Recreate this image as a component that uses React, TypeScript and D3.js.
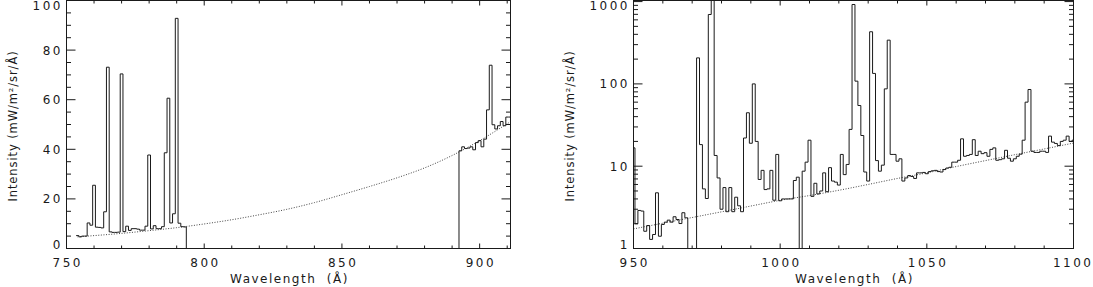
import React from 'react';
import * as d3 from 'd3';

// ---------------- data ----------------
// Left panel: spectrum (1 Å bins, centre wavelengths) in two pieces
const leftWavelengthA = [754, 755, 756, 757, 758, 759, 760, 761, 762, 763, 764, 765, 766, 767, 768, 769, 770, 771, 772, 773, 774, 775, 776, 777, 778, 779, 780, 781, 782, 783, 784, 785, 786, 787, 788, 789, 790, 791, 792, 793];
const leftIntensityA = [5.2, 4.7, 5.0, 5.0, 10.3, 9.4, 25.5, 8.6, 8.5, 8.3, 14.8, 73.1, 6.7, 6.5, 6.5, 6.6, 70.4, 6.8, 9.0, 7.3, 8.0, 8.0, 7.8, 7.4, 7.4, 9.0, 37.7, 7.9, 9.2, 8.0, 8.0, 8.8, 38.6, 60.6, 10.3, 14.0, 92.8, 10.2, 8.8, 8.7];
const leftWavelengthB = [893, 894, 895, 896, 897, 898, 899, 900, 901, 902, 903, 904, 905, 906, 907, 908, 909, 910, 911];
const leftIntensityB = [39.4, 41.0, 40.3, 40.5, 41.0, 39.8, 42.7, 43.5, 41.0, 44.1, 55.9, 73.9, 49.9, 48.2, 49.5, 51.2, 49.5, 53.0, 53.0];
// Left panel: continuum (dotted)
const leftContWavelength = [754, 760, 770, 780, 790, 800, 810, 820, 830, 840, 850, 860, 870, 880, 890, 900, 911];
const leftContIntensity = [4.7, 5.2, 6.1, 7.2, 8.4, 9.9, 11.6, 13.6, 15.8, 18.5, 21.7, 25.0, 28.5, 32.5, 37.5, 43.5, 51.0];

// Right panel: spectrum (1 Å bins, 950 … 1100)
const rightWavelength = [
  950, 951, 952, 953, 954, 955, 956, 957, 958, 959,
  960, 961, 962, 963, 964, 965, 966, 967, 968, 969,
  970, 971, 972, 973, 974, 975, 976, 977, 978, 979,
  980, 981, 982, 983, 984, 985, 986, 987, 988, 989,
  990, 991, 992, 993, 994, 995, 996, 997, 998, 999,
  1000, 1001, 1002, 1003, 1004, 1005, 1006, 1007, 1008, 1009,
  1010, 1011, 1012, 1013, 1014, 1015, 1016, 1017, 1018, 1019,
  1020, 1021, 1022, 1023, 1024, 1025, 1026, 1027, 1028, 1029,
  1030, 1031, 1032, 1033, 1034, 1035, 1036, 1037, 1038, 1039,
  1040, 1041, 1042, 1043, 1044, 1045, 1046, 1047, 1048, 1049,
  1050, 1051, 1052, 1053, 1054, 1055, 1056, 1057, 1058, 1059,
  1060, 1061, 1062, 1063, 1064, 1065, 1066, 1067, 1068, 1069,
  1070, 1071, 1072, 1073, 1074, 1075, 1076, 1077, 1078, 1079,
  1080, 1081, 1082, 1083, 1084, 1085, 1086, 1087, 1088, 1089,
  1090, 1091, 1092, 1093, 1094, 1095, 1096, 1097, 1098, 1099,
  1100,
];
const rightIntensity = [
  16.7, 2.0, 2.9, 2.85, 1.62, 1.9, 1.29, 1.48, 4.75, 1.41,
  1.96, 2.09, 2.21, 2.09, 2.43, 2.25, 2.01, 2.72, 2.36, 0.5,
  0.5, 0.5, 207, 18.3, 5.3, 4.05, 697, 2000, 13.5, 7.2,
  3.0, 5.5, 2.8, 5.5, 2.8, 4.2, 3.3, 2.8, 22, 44.6,
  19, 100, 20, 6.9, 8.9, 5.2, 5.3, 8.9, 3.86, 13.9,
  3.8, 4.0, 4.0, 4.0, 4.0, 6.7, 7.35, 0.5, 8.7, 11.2,
  20.7, 4.3, 6.2, 4.6, 5.0, 8.3, 4.9, 9.6, 6.6, 6.4,
  5.9, 13.9, 7.9, 10.5, 28, 922, 108, 54.6, 23.6, 8.5,
  6.6, 430, 134, 11.7, 8.7, 10.3, 87, 340, 13.9, 13.9,
  11.5, 12.3, 6.6, 7.2, 7.7, 7.5, 7.1, 8.3, 8.3, 8.4,
  8.1, 8.6, 8.8, 8.9, 8.6, 8.5, 9.1, 9.5, 9.7, 11.2,
  11.2, 11.8, 21.5, 13.2, 13.5, 13.9, 21, 13.5, 15.2, 14.2,
  14.6, 13.2, 16, 16.7, 11.8, 12, 12.3, 15.6, 12.5, 11.5,
  12.3, 13.2, 14, 20.7, 60, 85.5, 15.2, 14.7, 14.7, 15.2,
  15.2, 14.7, 23.2, 19.6, 18.9, 17.8, 20, 20.7, 23.2, 20,
  20.7,
];
// Right panel: continuum (dotted)
const rightContWavelength = [950, 960, 970, 980, 990, 1000, 1010, 1020, 1030, 1040, 1050, 1060, 1070, 1080, 1090, 1100];
const rightContIntensity = [1.73, 2.03, 2.38, 2.79, 3.28, 3.85, 4.4, 5.1, 6.0, 7.1, 8.3, 9.9, 11.7, 13.8, 16.2, 19.1];

// ticks
const leftXMajor = [750, 800, 850, 900];
const leftXMinor = [760, 770, 780, 790, 810, 820, 830, 840, 860, 870, 880, 890, 910];
const leftYMajor = [0, 20, 40, 60, 80, 100];
const leftYMinor = [5, 10, 15, 25, 30, 35, 45, 50, 55, 65, 70, 75, 85, 90, 95];
const rightXMajor = [950, 1000, 1050, 1100];
const rightXMinor = [960, 970, 980, 990, 1010, 1020, 1030, 1040, 1060, 1070, 1080, 1090];
const rightYMajor = [1, 10, 100, 1000];
const rightYMinor = [2, 3, 4, 5, 6, 7, 8, 9, 20, 30, 40, 50, 60, 70, 80, 90, 200, 300, 400, 500, 600, 700, 800, 900];

const xTitle = 'Wavelength  (Å)';
const yTitle = 'Intensity (mW/m²/sr/Å)';

// ---------------- drawing ----------------
const FONT = "'DejaVu Sans', sans-serif";
const INK = '#1a1a1a';
const TOP = 0.5;
const BOTTOM = 248.5;
const PAGE_W = 1093;

type Scale = (v: number) => number;

function histPath(wl: number[], val: number[], x: Scale, y: Scale, base: number, riseStart: boolean, dropEnd: boolean) {
  const n = wl.length;
  const edges: number[] = [wl[0] - (wl[1] - wl[0]) / 2];
  for (let i = 0; i < n - 1; i++) edges.push((wl[i] + wl[i + 1]) / 2);
  edges.push(wl[n - 1] + (wl[n - 1] - wl[n - 2]) / 2);
  const pts: [number, number][] = [];
  if (riseStart) pts.push([x(edges[0]), base]);
  for (let i = 0; i < n; i++) {
    pts.push([x(edges[i]), y(val[i])]);
    pts.push([x(edges[i + 1]), y(val[i])]);
  }
  if (dropEnd) pts.push([x(edges[n]), base]);
  return d3.line()(pts) || '';
}

interface PanelProps {
  id: string;
  x: Scale;
  y: Scale;
  x0: number;
  x1: number;
  xMajor: number[];
  xMinor: number[];
  yMajor: number[];
  yMinor: number[];
  yTickLen: number;
  titleX: number;
  children: React.ReactNode;
}

function Panel({ id, x, y, x0, x1, xMajor, xMinor, yMajor, yMinor, yTickLen, titleX, children }: PanelProps) {
  const xl = 5, xs = 3;
  const yl = yTickLen, ys = yTickLen / 2;
  const ls = 2.5;
  const digitW = 7.63;
  return (
    <g>
      <defs>
        <clipPath id={id}>
          <rect x={x0} y={TOP} width={x1 - x0} height={BOTTOM - TOP} />
        </clipPath>
      </defs>
      <g clipPath={`url(#${id})`}>{children}</g>
      <rect x={x0} y={TOP} width={x1 - x0} height={BOTTOM - TOP} fill="none" stroke={INK} strokeWidth={1} />
      {xMajor.map((v) => {
        const label = String(v);
        const halfW = (label.length * (digitW + ls) - ls) / 2;
        const cx = Math.min(x(v), PAGE_W - 2 - halfW);
        return (
          <g key={'xM' + v}>
            <line x1={x(v)} x2={x(v)} y1={BOTTOM} y2={BOTTOM - xl} stroke={INK} />
            <line x1={x(v)} x2={x(v)} y1={TOP} y2={TOP + xl} stroke={INK} />
            <text x={cx + ls / 2} y={267} textAnchor="middle" fontFamily={FONT} fontSize={12} letterSpacing={ls} fill={INK}>
              {label}
            </text>
          </g>
        );
      })}
      {xMinor.map((v) => (
        <g key={'xm' + v}>
          <line x1={x(v)} x2={x(v)} y1={BOTTOM} y2={BOTTOM - xs} stroke={INK} />
          <line x1={x(v)} x2={x(v)} y1={TOP} y2={TOP + xs} stroke={INK} />
        </g>
      ))}
      {yMajor.map((v) => {
        const cy = Math.min(245, Math.max(5.2, y(v)));
        return (
          <g key={'yM' + v}>
            <line x1={x0} x2={x0 + yl} y1={y(v)} y2={y(v)} stroke={INK} />
            <line x1={x1} x2={x1 - yl} y1={y(v)} y2={y(v)} stroke={INK} />
            <text x={x0 - 6 + ls} y={cy + 4.4} textAnchor="end" fontFamily={FONT} fontSize={12} letterSpacing={ls} fill={INK}>
              {String(v)}
            </text>
          </g>
        );
      })}
      {yMinor.map((v) => (
        <g key={'ym' + v}>
          <line x1={x0} x2={x0 + ys} y1={y(v)} y2={y(v)} stroke={INK} />
          <line x1={x1} x2={x1 - ys} y1={y(v)} y2={y(v)} stroke={INK} />
        </g>
      ))}
      <text
        x={(x0 + x1) / 2 + 1}
        y={283}
        textAnchor="middle"
        fontFamily={FONT}
        fontSize={12}
        letterSpacing={1.5}
        fill={INK}
        style={{ whiteSpace: 'pre' }}
      >
        {xTitle}
      </text>
      <text
        transform={`translate(${titleX},126) rotate(-90)`}
        textAnchor="middle"
        fontFamily={FONT}
        fontSize={11.5}
        letterSpacing={0.9}
        fill={INK}
      >
        {yTitle}
      </text>
    </g>
  );
}

export default function App() {
  const xL = d3.scaleLinear().domain([750, 911.2]).range([66.5, 510.5]);
  const yL = d3.scaleLinear().domain([0, 100]).range([BOTTOM, TOP]);
  const xR = d3.scaleLinear().domain([950, 1100]).range([633.5, 1073.5]);
  const yR = d3.scaleLog().domain([1, 1031]).range([BOTTOM, TOP]);

  const contL = d3
    .line<number>()
    .x((_, i) => xL(leftContWavelength[i]))
    .y((d) => yL(d))
    .curve(d3.curveMonotoneX)(leftContIntensity) || '';
  const contR = d3
    .line<number>()
    .x((_, i) => xR(rightContWavelength[i]))
    .y((d) => yR(d))
    .curve(d3.curveMonotoneX)(rightContIntensity) || '';

  const pathLA = histPath(leftWavelengthA, leftIntensityA, xL, yL, yL(0), false, true);
  const pathLB = histPath(leftWavelengthB, leftIntensityB, xL, yL, yL(0), true, false);
  const pathR = histPath(rightWavelength, rightIntensity, xR, yR, BOTTOM + 30, false, false);

  return (
    <div style={{ position: 'absolute', left: 0, top: 0 }}>
      <svg width={1093} height={287} style={{ display: 'block', background: '#fff' }}>
        <rect x={0} y={0} width={1093} height={287} fill="#fff" />
        <Panel
          id="clipL"
          x={xL}
          y={yL}
          x0={66.5}
          x1={510.5}
          xMajor={leftXMajor}
          xMinor={leftXMinor}
          yMajor={leftYMajor}
          yMinor={leftYMinor}
          yTickLen={9}
          titleX={17}
        >
          <path d={contL} fill="none" stroke="#444" strokeWidth={1} strokeDasharray="1,1.6" />
          <path d={pathLA} fill="none" stroke={INK} strokeWidth={1} />
          <path d={pathLB} fill="none" stroke={INK} strokeWidth={1} />
        </Panel>
        <Panel
          id="clipR"
          x={xR}
          y={yR}
          x0={633.5}
          x1={1073.5}
          xMajor={rightXMajor}
          xMinor={rightXMinor}
          yMajor={rightYMajor}
          yMinor={rightYMinor}
          yTickLen={9}
          titleX={574}
        >
          <path d={contR} fill="none" stroke="#444" strokeWidth={1} strokeDasharray="1,1.6" />
          <path d={pathR} fill="none" stroke={INK} strokeWidth={1} />
        </Panel>
      </svg>
    </div>
  );
}
